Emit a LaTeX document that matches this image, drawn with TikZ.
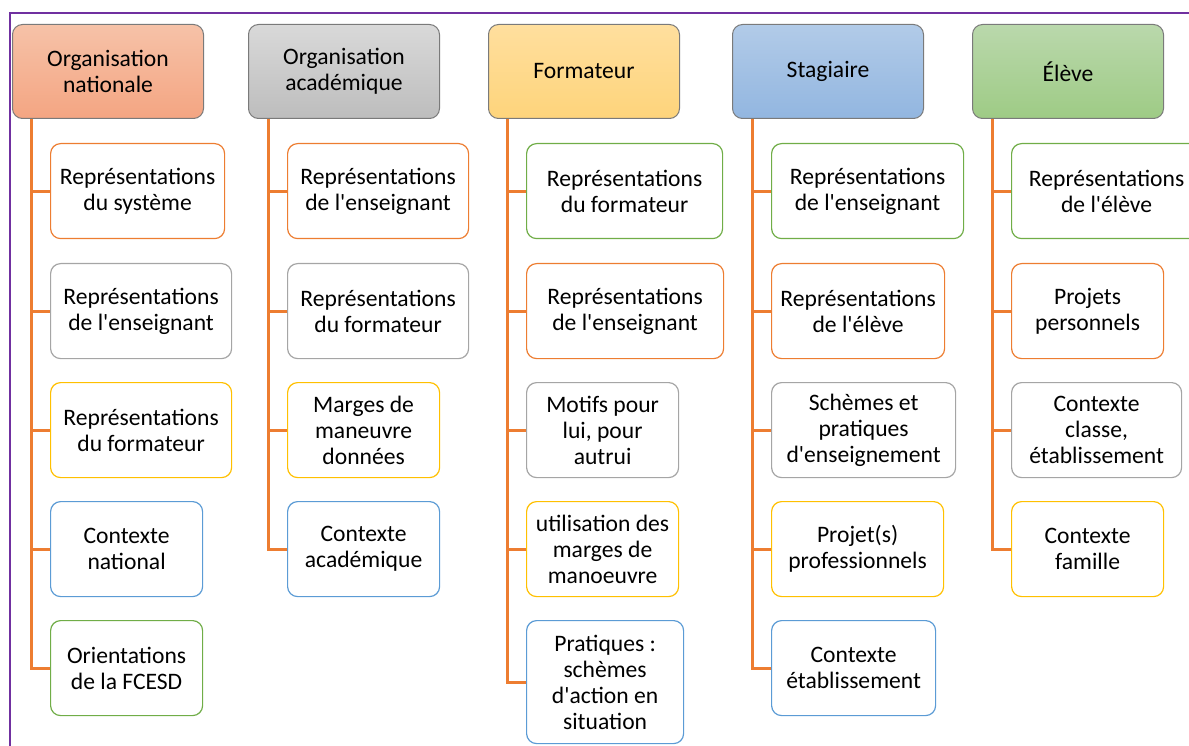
\documentclass[tikz,border=0pt]{standalone}
\usepackage{fontspec}
\setmainfont{Carlito}
\usepackage{tikz}

\definecolor{linkc}{HTML}{ED7D31}
\definecolor{framec}{HTML}{7030A0}
\definecolor{hdrline}{HTML}{7A7A7A}
\definecolor{cOr}{HTML}{ED7D31}
\definecolor{cGr}{HTML}{A5A5A5}
\definecolor{cGo}{HTML}{FFC000}
\definecolor{cBl}{HTML}{5B9BD5}
\definecolor{cGn}{HTML}{70AD47}
\definecolor{natA}{HTML}{F6C2A8}
\definecolor{natB}{HTML}{F4A582}
\definecolor{acaA}{HTML}{D9D9D9}
\definecolor{acaB}{HTML}{BDBDBD}
\definecolor{forA}{HTML}{FFDF9E}
\definecolor{forB}{HTML}{FED47B}
\definecolor{staA}{HTML}{B2CBE8}
\definecolor{staB}{HTML}{92B6E0}
\definecolor{eleA}{HTML}{BAD8AC}
\definecolor{eleB}{HTML}{9ECB85}

\begin{document}
\begin{tikzpicture}[x=1pt,y=-1pt,
    font=\fontsize{23.6}{26}\selectfont,
    hdr/.style={draw=hdrline, line width=1pt, rounded corners=10pt,
      minimum width=191pt, minimum height=94pt, anchor=north west,
      align=center, inner sep=0pt},
    leaf/.style={draw=#1, fill=white, line width=1.2pt, rounded corners=10pt,
      minimum height=95pt, anchor=north west, align=center, inner sep=0pt},
    link/.style={draw=linkc, line width=3pt}]
        \useasboundingbox (0,0) rectangle (1189,746);
        % Frame
        \draw[framec, line width=2.5pt] (10,746) -- (10,13) -- (1189,13);
        % Headers
        \node[hdr, top color=natA, bottom color=natB] (nat) at (12,24) {Organisation\\nationale};
        \node[hdr, top color=acaA, bottom color=acaB] (aca) at (248,24) {Organisation\\académique};
        \node[hdr, top color=forA, bottom color=forB] (for) at (488,24) {Formateur};
        \node[hdr, top color=staA, bottom color=staB] (sta) at (732,24) {Stagiaire};
        \node[hdr, top color=eleA, bottom color=eleB] (ele) at (972,24) {Élève};
        % Organisation nationale
        \node[leaf=cOr, minimum width=174pt] (nat1) at (50,143) {Représentations\\du système};
        \node[leaf=cGr, minimum width=181pt] (nat2) at (50,263) {Représentations\\de l\textquotesingle enseignant};
        \node[leaf=cGo, minimum width=181pt] (nat3) at (50,382) {Représentations\\du formateur};
        \node[leaf=cBl, minimum width=152pt] (nat4) at (50,501) {Contexte\\national};
        \node[leaf=cGn, minimum width=152pt] (nat5) at (50,620) {Orientations\\de la FCESD};
        % Organisation academique
        \node[leaf=cOr, minimum width=181pt] (aca1) at (287,143) {Représentations\\de l\textquotesingle enseignant};
        \node[leaf=cGr, minimum width=181pt] (aca2) at (287,263) {Représentations\\du formateur};
        \node[leaf=cGo, minimum width=152pt] (aca3) at (287,382) {Marges de\\maneuvre\\données};
        \node[leaf=cBl, minimum width=152pt] (aca4) at (287,501) {Contexte\\académique};
        % Formateur
        \node[leaf=cGn, minimum width=196pt] (for1) at (526,143) {Représentations\\du formateur};
        \node[leaf=cOr, minimum width=197pt] (for2) at (526,263) {Représentations\\de l\textquotesingle enseignant};
        \node[leaf=cGr, minimum width=152pt] (for3) at (526,382) {Motifs pour\\lui, pour\\autrui};
        \node[leaf=cGo, minimum width=152pt] (for4) at (526,501) {utilisation des\\marges de\\manoeuvre};
        \node[leaf=cBl, minimum width=157pt, minimum height=123pt] (for5) at (526,620) {Pratiques :\\schèmes\\d\textquotesingle action en\\situation};
        % Stagiaire
        \node[leaf=cGn, minimum width=192pt] (sta1) at (771,143) {Représentations\\de l\textquotesingle enseignant};
        \node[leaf=cOr, minimum width=173pt] (sta2) at (771,263) {Représentations\\de l\textquotesingle élève};
        \node[leaf=cGr, minimum width=184pt] (sta3) at (771,382) {Schèmes et\\pratiques\\d\textquotesingle enseignement};
        \node[leaf=cGo, minimum width=172pt] (sta4) at (771,501) {Projet(s)\\professionnels};
        \node[leaf=cBl, minimum width=164pt] (sta5) at (771,620) {Contexte\\établissement};
        % Eleve
        \node[leaf=cGn, minimum width=190pt] (ele1) at (1011,143) {Représentations\\de l\textquotesingle élève};
        \node[leaf=cOr, minimum width=152pt] (ele2) at (1011,263) {Projets\\personnels};
        \node[leaf=cGr, minimum width=170pt] (ele3) at (1011,382) {Contexte\\classe,\\établissement};
        \node[leaf=cGo, minimum width=152pt] (ele4) at (1011,501) {Contexte\\famille};
        % Links
        \foreach \k in {1,...,5} {
          \draw[link] (nat.south west) ++(19,0) |- (nat\k.west);
          \draw[link] (for.south west) ++(19,0) |- (for\k.west);
          \draw[link] (sta.south west) ++(20,0) |- (sta\k.west);
        }
        \foreach \k in {1,...,4} {
          \draw[link] (aca.south west) ++(20,0) |- (aca\k.west);
          \draw[link] (ele.south west) ++(20,0) |- (ele\k.west);
        }
\end{tikzpicture}
\end{document}
